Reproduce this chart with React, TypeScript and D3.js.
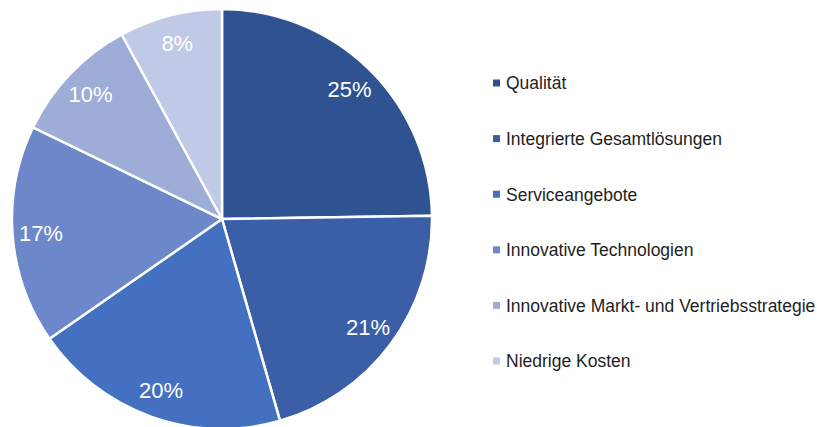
import React from "react";
import * as d3 from "d3";

const categories = [
  "Qualität",
  "Integrierte Gesamtlösungen",
  "Serviceangebote",
  "Innovative Technologien",
  "Innovative Markt- und Vertriebsstrategie",
  "Niedrige Kosten",
];
const values = [25, 21, 20, 17, 10, 8];
const labels = ["25%", "21%", "20%", "17%", "10%", "8%"];
const colors = ["#2f5290", "#3a5fa7", "#4470c1", "#6c88ca", "#9dadd7", "#c0c9e5"];

export default function App() {
  const W = 817, H = 427;
  const cx = 222, cy = 219, r = 210;
  const pie = d3.pie<number>().sort(null).value((d) => d)(values);
  const arc = d3.arc<d3.PieArcDatum<number>>().innerRadius(0).outerRadius(r);
  const labelArc = d3.arc<d3.PieArcDatum<number>>().innerRadius(r * 0.865).outerRadius(r * 0.865);
  const legendY = d3.scalePoint<string>().domain(categories).range([83, 361]);
  return (
    <svg width={W} height={H} style={{ position: "absolute", left: 0, top: 0 }} fontFamily="'Liberation Sans', Arial, sans-serif">
      <rect width={W} height={H} fill="#fff" />
      <g transform={`translate(${cx},${cy})`}>
        {pie.map((p, i) => (
          <path key={i} d={arc(p) || ""} fill={colors[i]} stroke="#fff" strokeWidth={2.5} strokeLinejoin="round" />
        ))}
        {pie.map((p, i) => {
          const [x, y] = labelArc.centroid(p);
          return (
            <text key={i} x={x} y={y} dy="0.36em" textAnchor="middle" fill="#fff" fontSize={22}>
              {labels[i]}
            </text>
          );
        })}
      </g>
      {categories.map((c, i) => (
        <g key={c} transform={`translate(0,${legendY(c)})`}>
          <rect x={493} y={-3.5} width={7} height={7} fill={colors[i]} />
          <text x={506} y={0} dy="0.36em" fontSize={17.5} fill="#1e1e1e">
            {c}
          </text>
        </g>
      ))}
    </svg>
  );
}
